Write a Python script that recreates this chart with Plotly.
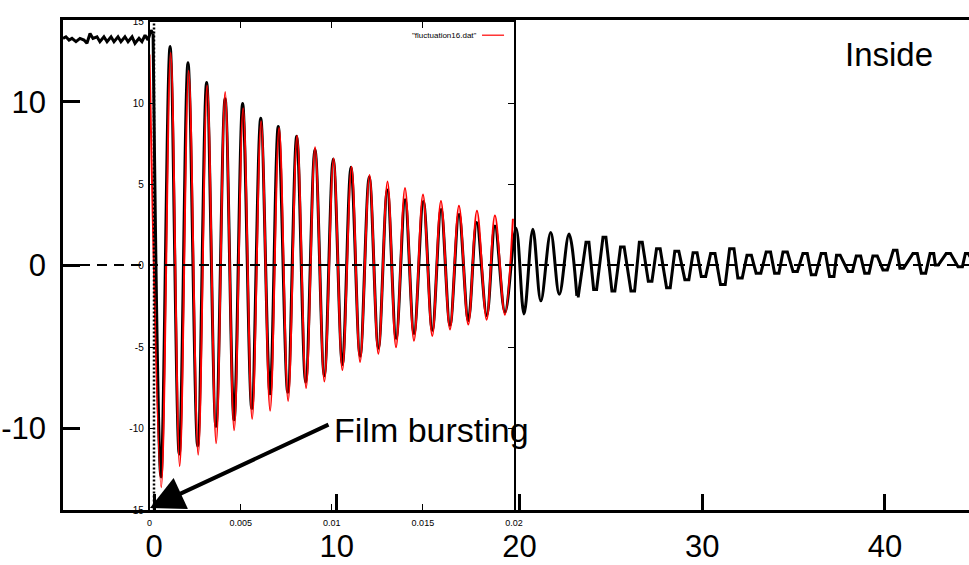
import plotly.graph_objects as go

# ---------------- data ----------------
# pressure signal before bursting (outer axes, ms)
pre_t = [-4.98, -4.82, -4.65, -4.49, -4.27, -4.05, -3.83, -3.67, -3.50, -3.34,
         -3.12, -2.96, -2.74, -2.57, -2.35, -2.19, -1.97, -1.81, -1.59, -1.42,
         -1.20, -1.04, -0.82, -0.66, -0.49, -0.33, -0.16, -0.05]
pre_v = [13.9, 14.0, 13.8, 13.9, 13.7, 13.9, 13.8, 13.6, 14.2, 13.9,
         14.0, 13.7, 14.0, 13.7, 14.0, 13.7, 14.0, 13.7, 14.0, 13.7,
         14.0, 13.6, 13.9, 13.7, 14.1, 13.8, 14.4, 14.2]

# smooth oscillation after bursting: extrema of the black signal (outer axes, ms)
osc_t = [-0.05, 0.38, 0.88, 1.38, 1.86, 2.39, 2.88, 3.39, 3.89, 4.38,
         4.85, 5.35, 5.84, 6.35, 6.80, 7.32, 7.81, 8.30, 8.81, 9.32,
         9.81, 10.31, 10.78, 11.28, 11.78, 12.28, 12.77, 13.25, 13.74, 14.23,
         14.74, 15.23, 15.71, 16.20, 16.69, 17.20, 17.66, 18.21, 18.66, 19.21,
         19.81, 20.25, 20.73, 21.17, 21.71, 22.18, 22.71, 23.14]
osc_v = [14.2, -13.0, 13.4, -11.6, 12.4, -11.1, 11.2, -9.9, 10.2, -9.5,
         9.9, -8.8, 9.0, -7.9, 8.5, -7.8, 7.9, -7.2, 7.1, -6.8,
         6.5, -6.1, 6.0, -5.6, 5.4, -5.1, 4.6, -4.5, 4.0, -4.2,
         3.9, -4.0, 3.4, -3.7, 3.1, -3.4, 2.6, -3.1, 2.4, -2.9,
         2.25, -3.0, 2.2, -2.2, 2.0, -1.8, 1.9, -1.9]

# later, blocky part of the black signal (plateaus, outer axes, ms)
late_t = [23.14, 23.22, 23.64, 23.80, 24.06, 24.22, 24.57, 24.73, 25.06, 25.22,
          25.53, 25.73, 26.10, 26.30, 26.56, 26.72, 27.05, 27.25, 27.50, 27.70,
          28.05, 28.25, 28.50, 28.72, 29.05, 29.27, 29.50, 29.72, 29.95, 30.19,
          30.46, 30.70, 31.00, 31.26, 31.50, 31.74, 31.95, 32.19, 32.45, 32.69,
          32.95, 33.21, 33.50, 33.74, 33.96, 34.20, 34.42, 34.66, 34.97, 35.21,
          35.51, 35.75, 35.97, 36.21, 36.51, 36.75, 36.97, 37.21, 37.35, 37.55,
          37.98, 38.22, 38.43, 38.67, 38.89, 39.13, 39.34, 39.58, 39.89, 40.13,
          40.46, 40.66, 40.82, 41.02, 41.53, 41.77, 41.99, 42.23, 42.47, 42.67,
          42.76, 42.92, 43.35, 43.59, 44.00, 44.24, 44.40, 44.56, 44.66]
late_v = [-1.9, -1.9, 1.4, 1.4, -1.5, -1.5, 1.7, 1.7, -1.6, -1.6,
          1.1, 1.1, -1.6, -1.6, 1.4, 1.4, -1.0, -1.0, 1.0, 1.0,
          -1.4, -1.4, 0.85, 0.85, -0.9, -0.9, 0.75, 0.75, -0.7, -0.7,
          0.7, 0.7, -1.2, -1.2, 1.0, 1.0, -0.8, -0.8, 0.6, 0.6,
          -0.5, -0.5, 0.8, 0.8, -0.5, -0.5, 0.8, 0.8, -0.4, -0.4,
          0.7, 0.7, -0.6, -0.6, 0.7, 0.7, -0.7, -0.7, 0.6, 0.6,
          -0.4, -0.4, 0.55, 0.55, -0.5, -0.5, 0.55, 0.55, -0.3, -0.3,
          0.9, 0.9, -0.2, -0.2, 0.7, 0.7, -0.5, -0.5, 0.7, 0.7,
          0.0, 0.0, 0.7, 0.7, -0.1, -0.1, 0.7, 0.7, 0.5]

# fitted damped oscillation "fluctuation16.dat" (inset axes, seconds)
fit_t = [0.0, 0.000641, 0.001162, 0.001656, 0.002149, 0.002670, 0.003163, 0.003657,
         0.004150, 0.004644, 0.005137, 0.005631, 0.006124, 0.006617, 0.007111,
         0.007604, 0.008098, 0.008591, 0.009084, 0.009594, 0.010099, 0.010581,
         0.011086, 0.011552, 0.012072, 0.012555, 0.013059, 0.013525, 0.014019,
         0.014512, 0.015005, 0.015515, 0.015992, 0.016486, 0.016979, 0.017489,
         0.017966, 0.018498, 0.018953, 0.019501, 0.019940]
fit_v = [13.0, -13.6, 13.1, -12.3, 12.0, -11.6, 11.1, -10.9, 10.7, -10.1,
         9.7, -9.4, 8.9, -8.9, 8.5, -8.3, 8.0, -7.5, 7.3, -7.1,
         6.6, -6.4, 6.1, -5.9, 5.6, -5.4, 5.2, -5.0, 4.8, -4.6,
         4.4, -4.3, 4.0, -3.9, 3.7, -3.6, 3.4, -3.3, 3.1, -3.0, 2.9]

outer_xticks = [0, 10, 20, 30, 40]
outer_yticks = [-10, 0, 10]
outer_ylabels = ["-10", "0", "10"]
inset_xticks = [0, 0.005, 0.01, 0.015, 0.02]
inset_xlabels = ["0", "0.005", "0.01", "0.015", "0.02"]
inset_yticks = [-15, -10, -5, 0, 5, 10, 15]
inset_ylabels = ["-15", "-10", "-5", "0", "5", "10", "15"]

BIG = "Liberation Sans, Arial, Helvetica, sans-serif"
NARROW = "Liberation Sans Narrow, Arial Narrow, Liberation Sans, sans-serif"

fig = go.Figure()
fig.add_trace(go.Scatter(x=pre_t, y=pre_v, mode="lines",
                         line=dict(color="black", width=3),
                         xaxis="x", yaxis="y", showlegend=False))
fig.add_trace(go.Scatter(x=osc_t, y=osc_v, mode="lines",
                         line=dict(color="black", width=3, shape="spline", smoothing=1),
                         xaxis="x", yaxis="y", showlegend=False))
fig.add_trace(go.Scatter(x=late_t, y=late_v, mode="lines",
                         line=dict(color="black", width=3),
                         xaxis="x", yaxis="y", showlegend=False))
fig.add_trace(go.Scatter(x=fit_t, y=fit_v, mode="lines",
                         line=dict(color="red", width=2, shape="spline", smoothing=1),
                         xaxis="x2", yaxis="y2", showlegend=False))

fig.update_layout(
    width=969, height=565,
    margin=dict(l=63, r=0, t=20, b=55),
    paper_bgcolor="white", plot_bgcolor="rgba(0,0,0,0)",
    showlegend=False,
    xaxis=dict(range=[-4.98, 44.6], domain=[0, 1], anchor="y", automargin=False,
               tickvals=outer_xticks, ticktext=[str(v) for v in outer_xticks],
               ticks="inside", ticklen=16, tickwidth=2.5, tickcolor="black",
               showline=True, linewidth=2.5, linecolor="black", mirror=True,
               showgrid=False, zeroline=False,
               tickfont=dict(family=BIG, size=31, color="black"),
               ticklabelstandoff=7),
    yaxis=dict(range=[-15.03, 15.03], domain=[0, 1], anchor="x", automargin=False,
               tickvals=outer_yticks, ticktext=outer_ylabels,
               ticks="inside", ticklen=17, tickwidth=2.5, tickcolor="black",
               showline=True, linewidth=2.5, linecolor="black", mirror=False,
               showgrid=False, zeroline=False,
               tickfont=dict(family=BIG, size=31, color="black"),
               ticklabelstandoff=8),
    xaxis2=dict(range=[0, 0.02], domain=[0.0955, 0.4978], anchor="y2", automargin=False,
                tickvals=inset_xticks, ticktext=inset_xlabels,
                ticks="inside", ticklen=6, tickwidth=1, tickcolor="black",
                showline=True, linewidth=1.5, linecolor="black", mirror="ticks",
                showgrid=False, zeroline=False,
                tickfont=dict(family=NARROW, size=9, color="black"),
                ticklabelstandoff=3),
    yaxis2=dict(range=[-15, 15], domain=[0, 0.996], anchor="x2", automargin=False,
                tickvals=inset_yticks, ticktext=inset_ylabels,
                ticks="inside", ticklen=6, tickwidth=1, tickcolor="black",
                showline=True, linewidth=1.5, linecolor="black", mirror="ticks",
                showgrid=False, zeroline=False,
                tickfont=dict(family=NARROW, size=10, color="black"),
                ticklabelstandoff=2),
)

# dashed zero line across the whole frame
fig.add_shape(type="line", xref="paper", yref="y", x0=0, x1=1, y0=0, y1=0,
              line=dict(color="black", width=2, dash="10px,7px"), layer="above")
# dotted vertical line at bursting time
fig.add_shape(type="line", xref="x", yref="y", x0=0, x1=0, y0=-15, y1=15,
              line=dict(color="black", width=2.5, dash="2px,2px"), layer="above")

# inset legend
fig.add_annotation(xref="paper", yref="paper", x=0.459, y=0.969,
                   text='"fluctuation16.dat"', showarrow=False,
                   xanchor="right", yanchor="middle",
                   font=dict(family=NARROW, size=8, color="black"))
fig.add_shape(type="line", xref="paper", yref="paper", x0=0.4625, x1=0.4868,
              y0=0.969, y1=0.969, line=dict(color="red", width=1.2))

# text labels
fig.add_annotation(xref="x", yref="y", x=40.2, y=12.9, text="Inside", showarrow=False,
                   font=dict(family=BIG, size=33, color="black"))
fig.add_annotation(xref="x", yref="y", x=15.2, y=-10.1, text="Film bursting", showarrow=False,
                   font=dict(family=BIG, size=34, color="black"))
fig.add_annotation(xref="x", yref="y", x=-0.22, y=-14.9, axref="x", ayref="y",
                   ax=9.63, ay=-9.75, text="", showarrow=True,
                   arrowhead=2, arrowsize=1.7, arrowwidth=4, arrowcolor="black")

fig.write_html("out.html")
